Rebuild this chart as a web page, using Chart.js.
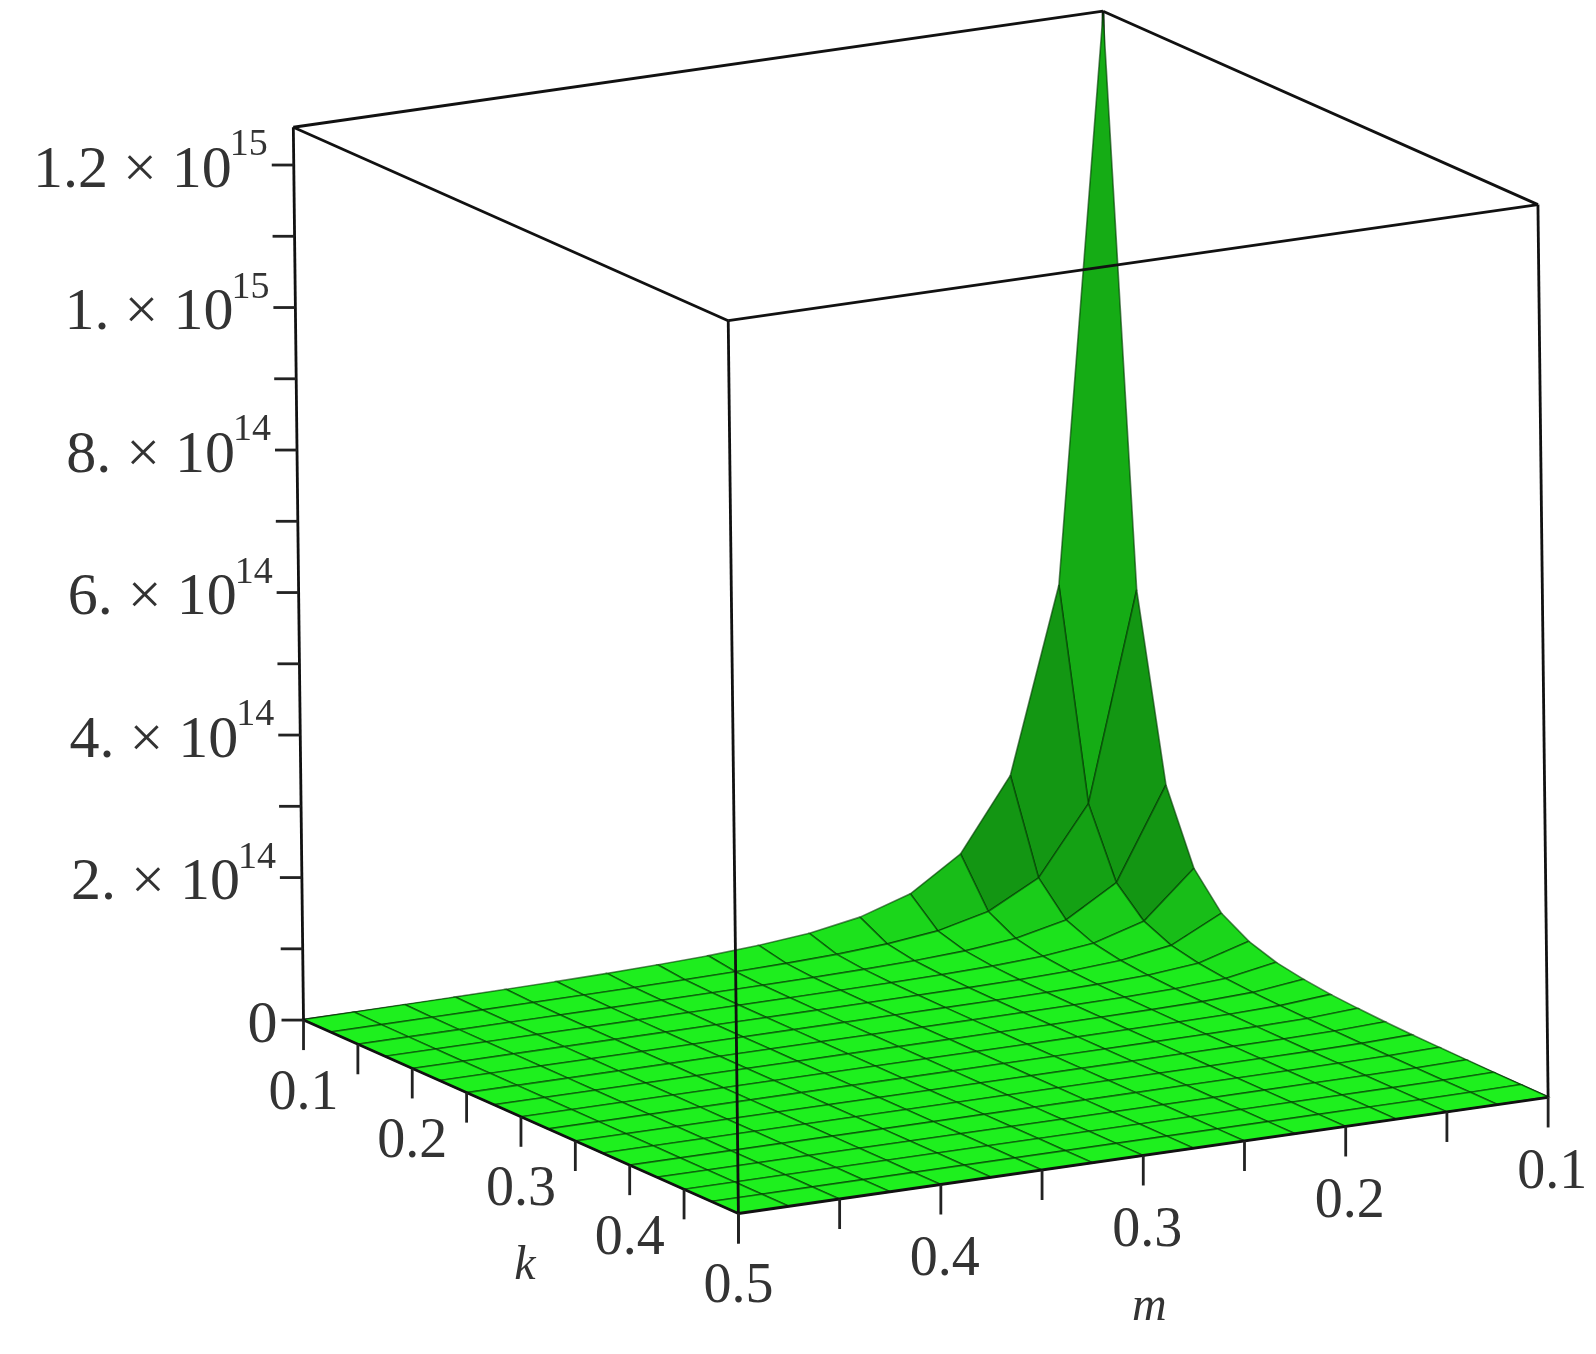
<!DOCTYPE html>
<html>
<head>
<meta charset="utf-8">
<script src="https://cdn.jsdelivr.net/npm/chart.js@4.4.1/dist/chart.umd.min.js"></script>
<style>
  body { margin: 0; background: #fff; }
  canvas { display: block; }
</style>
</head>
<body>
<canvas id="surf" width="1596" height="1354"></canvas>
<script>
// grid values
const kVals = [0.1, 0.125, 0.15, 0.175, 0.2, 0.225, 0.25, 0.275, 0.3, 0.325, 0.35, 0.375, 0.4, 0.425, 0.45, 0.475, 0.5];
const mVals = [0.1, 0.125, 0.15, 0.175, 0.2, 0.225, 0.25, 0.275, 0.3, 0.325, 0.35, 0.375, 0.4, 0.425, 0.45, 0.475, 0.5];
// z values in units of 1e13, rows = k, columns = m
const zRows = [
  [125, 45.8, 20.1, 10.1, 5.5, 3.25, 2.0, 1.33, 0.89, 0.63, 0.45, 0.33, 0.25, 0.19, 0.14, 0.11, 0.09],
  [45.8, 16.8, 7.4, 3.7, 2.0, 1.19, 0.74, 0.49, 0.33, 0.23, 0.16, 0.12, 0.09, 0.07, 0.05, 0.04, 0.03],
  [20.1, 7.4, 3.2, 1.62, 0.89, 0.52, 0.33, 0.21, 0.14, 0.10, 0.07, 0.05, 0.04, 0.03, 0.02, 0.02, 0.01],
  [10.1, 3.7, 1.62, 0.81, 0.45, 0.26, 0.16, 0.11, 0.07, 0.05, 0.04, 0.03, 0.02, 0.02, 0.01, 0.01, 0.01],
  [5.5, 2.0, 0.89, 0.44, 0.24, 0.14, 0.09, 0.06, 0.04, 0.03, 0.02, 0.01, 0.01, 0.01, 0.01, 0, 0],
  [3.25, 1.19, 0.52, 0.26, 0.14, 0.08, 0.05, 0.03, 0.02, 0.02, 0.01, 0.01, 0.01, 0, 0, 0, 0],
  [2.0, 0.74, 0.33, 0.16, 0.09, 0.05, 0.03, 0.02, 0.01, 0.01, 0.01, 0.01, 0, 0, 0, 0, 0],
  [1.33, 0.49, 0.21, 0.11, 0.06, 0.03, 0.02, 0.01, 0.01, 0.01, 0, 0, 0, 0, 0, 0, 0],
  [0.89, 0.33, 0.14, 0.07, 0.04, 0.02, 0.01, 0.01, 0.01, 0, 0, 0, 0, 0, 0, 0, 0],
  [0.63, 0.23, 0.10, 0.05, 0.03, 0.02, 0.01, 0.01, 0, 0, 0, 0, 0, 0, 0, 0, 0],
  [0.45, 0.16, 0.07, 0.04, 0.02, 0.01, 0.01, 0, 0, 0, 0, 0, 0, 0, 0, 0, 0],
  [0.33, 0.12, 0.05, 0.03, 0.01, 0.01, 0.01, 0, 0, 0, 0, 0, 0, 0, 0, 0, 0],
  [0.25, 0.09, 0.04, 0.02, 0.01, 0.01, 0, 0, 0, 0, 0, 0, 0, 0, 0, 0, 0],
  [0.19, 0.07, 0.03, 0.02, 0.01, 0, 0, 0, 0, 0, 0, 0, 0, 0, 0, 0, 0],
  [0.14, 0.05, 0.02, 0.01, 0.01, 0, 0, 0, 0, 0, 0, 0, 0, 0, 0, 0, 0],
  [0.11, 0.04, 0.02, 0.01, 0, 0, 0, 0, 0, 0, 0, 0, 0, 0, 0, 0, 0],
  [0.09, 0.03, 0.01, 0.01, 0, 0, 0, 0, 0, 0, 0, 0, 0, 0, 0, 0, 0]
];
const zTicks = [0, 1e14, 2e14, 3e14, 4e14, 5e14, 6e14, 7e14, 8e14, 9e14, 1e15, 1.1e15, 1.2e15];
const zLabels = [[0, '0', ''], [2e14, '2. \u00d7 10', '14'], [4e14, '4. \u00d7 10', '14'], [6e14, '6. \u00d7 10', '14'],
                 [8e14, '8. \u00d7 10', '14'], [1e15, '1. \u00d7 10', '15'], [1.2e15, '1.2 \u00d7 10', '15']];
const kTicks = [0.1, 0.15, 0.2, 0.25, 0.3, 0.35, 0.4, 0.45, 0.5];
const kLabels = [0.1, 0.2, 0.3, 0.4, 0.5];
const mTicks = [0.1, 0.15, 0.2, 0.25, 0.3, 0.35, 0.4, 0.45, 0.5];
const mLabels = [0.1, 0.2, 0.3, 0.4];

const Z_MAX = 1.253e15;

// simple oblique projection of the box onto screen units
function proj(k, m, z) {
  const fx = (0.5 - k) / 0.4, fy = (0.5 - m) / 0.4, fz = z / Z_MAX;
  return { x: 725 - 427 * fx + 795 * fy - 10 * fz, y: 1192 - 190 * fx - 114 * fy - 877 * fz };
}

const quads = [];
for (let i = 0; i < kVals.length - 1; i++) {
  for (let j = 0; j < mVals.length - 1; j++) {
    const c = [[i, j], [i + 1, j], [i + 1, j + 1], [i, j + 1]];
    const z = c.map(([a, b]) => zRows[a][b] * 1e13);
    // shading from the quad's slope
    const dzx = ((z[1] + z[2]) - (z[0] + z[3])) / 2 / Z_MAX / (0.025 / 0.4);
    const dzy = ((z[2] + z[3]) - (z[0] + z[1])) / 2 / Z_MAX / (0.025 / 0.4);
    let nx = dzx, ny = dzy, nz = 1;
    const nl = Math.hypot(nx, ny, nz);
    nx /= nl; ny /= nl; nz /= nl;
    const L = [0.3, 0.3, 0.9];
    const lam = Math.abs(nx * L[0] + ny * L[1] + nz * L[2]);
    const b = 0.55 + 0.5 * lam;
    const pts = c.map(([a, bb]) => proj(kVals[a], mVals[bb], zRows[a][bb] * 1e13));
    pts.push(pts[0]);
    quads.push({
      key: i + j,
      ds: {
        data: pts, showLine: true, fill: 'shape', pointRadius: 0,
        backgroundColor: `rgb(${Math.round(30 * b)},${Math.min(255, Math.round(240 * b))},${Math.round(30 * b)})`,
        borderColor: 'rgba(0,55,0,0.6)', borderWidth: 1.6
      }
    });
  }
}
quads.sort((a, b) => a.key - b.key);

function edge(a, b) {
  return { data: [proj(...a), proj(...b)], showLine: true, fill: false, pointRadius: 0,
           borderColor: '#111', borderWidth: 2.8 };
}
const backEdges = [
  edge([0.1, 0.1, 0], [0.1, 0.1, Z_MAX]),
  edge([0.1, 0.1, 0], [0.1, 0.5, 0]),
  edge([0.1, 0.1, 0], [0.5, 0.1, 0])
];
const frontEdges = [
  edge([0.1, 0.5, 0], [0.5, 0.5, 0]),
  edge([0.5, 0.5, 0], [0.5, 0.1, 0]),
  edge([0.1, 0.5, 0], [0.1, 0.5, Z_MAX]),
  edge([0.5, 0.5, 0], [0.5, 0.5, Z_MAX]),
  edge([0.5, 0.1, 0], [0.5, 0.1, Z_MAX]),
  edge([0.1, 0.1, Z_MAX], [0.1, 0.5, Z_MAX]),
  edge([0.1, 0.1, Z_MAX], [0.5, 0.1, Z_MAX]),
  edge([0.5, 0.5, Z_MAX], [0.1, 0.5, Z_MAX]),
  edge([0.5, 0.5, Z_MAX], [0.5, 0.1, Z_MAX])
];

// first drawn = last in array
const drawSeq = [...backEdges, ...quads.map(q => q.ds), ...frontEdges];
const datasets = drawSeq.slice().reverse();

const axisLabels = {
  id: 'axisLabels',
  afterDraw(chart) {
    const ctx = chart.ctx, sx = chart.scales.x, sy = chart.scales.y;
    const P = (k, m, z) => { const p = proj(k, m, z); return { x: sx.getPixelForValue(p.x), y: sy.getPixelForValue(p.y) }; };
    ctx.save();
    ctx.strokeStyle = '#222';
    ctx.lineWidth = 2.8;
    ctx.fillStyle = '#333';
    zTicks.forEach(z => {
      const p = P(0.1, 0.5, z);
      ctx.beginPath(); ctx.moveTo(p.x, p.y); ctx.lineTo(p.x - 22, p.y); ctx.stroke();
    });
    ctx.textBaseline = 'middle';
    zLabels.forEach(([z, txt, sup]) => {
      const p = P(0.1, 0.5, z);
      const right = p.x - 26;
      ctx.font = '38px "Liberation Serif"';
      const sw = sup ? ctx.measureText(sup).width : 0;
      ctx.textAlign = 'right';
      if (sup) ctx.fillText(sup, right, p.y - 20);
      ctx.font = '60px "Liberation Serif"';
      ctx.fillText(txt, right - sw + (sup ? 2 : 0), p.y + 6);
    });
    kTicks.forEach(k => {
      const p = P(k, 0.5, 0);
      ctx.beginPath(); ctx.moveTo(p.x, p.y); ctx.lineTo(p.x, p.y + 30); ctx.stroke();
    });
    mTicks.forEach(m => {
      const p = P(0.5, m, 0);
      ctx.beginPath(); ctx.moveTo(p.x, p.y); ctx.lineTo(p.x, p.y + 30); ctx.stroke();
    });
    ctx.font = '56px "Liberation Serif"';
    ctx.textAlign = 'center';
    kLabels.forEach(k => {
      const p = P(k, 0.5, 0);
      ctx.fillText(String(k), p.x, p.y + 74);
    });
    mLabels.forEach(m => {
      const p = P(0.5, m, 0);
      ctx.fillText(String(m), p.x + 4, p.y + 76);
    });
    ctx.font = 'italic 48px "Liberation Serif"';
    const kp = P(0.3, 0.5, 0), mp = P(0.5, 0.3, 0);
    ctx.fillText('k', kp.x + 4, kp.y + 150);
    ctx.fillText('m', mp.x + 6, mp.y + 152);
    ctx.restore();
  }
};

new Chart(document.getElementById('surf'), {
  type: 'scatter',
  data: { datasets },
  options: {
    responsive: false,
    animation: false,
    devicePixelRatio: 1,
    layout: { padding: 0 },
    plugins: { legend: { display: false }, tooltip: { enabled: false } },
    scales: {
      x: { type: 'linear', display: false, min: 0, max: 1567 },
      y: { type: 'linear', display: false, min: 0, max: 1330, reverse: true }
    }
  },
  plugins: [axisLabels]
});
</script>
</body>
</html>
